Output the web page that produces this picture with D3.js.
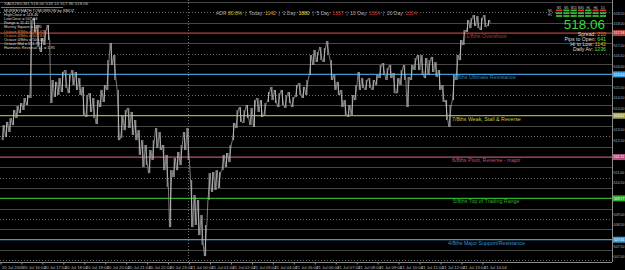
<!DOCTYPE html>
<html>
<head>
<meta charset="utf-8">
<script src="https://cdn.jsdelivr.net/npm/d3@7"></script>
<style>
html, body { margin: 0; padding: 0; background: #000; }
svg { display: block; font-family: "Liberation Sans", Arial, sans-serif; }
</style>
</head>
<body>
<svg id="chart" width="625" height="270"></svg>
<script>
// ---- data ----
// 10 minute bars from 20 Jul 15:10
const barStart = "2009-07-20 15:10";
const barHigh = [513.23,513.38,513.56,513.94,514.13,514.27,514.51,514.65,518.19,518.29,
  517.96,517.34,517.72,517.96,515.36,515.27,515.45,515.74,515.83,515.60,
  515.83,515.74,515.45,515.03,514.65,514.74,514.51,514.41,514.89,515.12,
  516.30,517.11,516.54,514.89,513.70,513.94,514.04,513.85,513.47,512.99,
  512.52,512.29,512.05,512.52,513.09,512.90,512.29,511.82,511.10,511.67,
  511.96,512.29,512.90,513.09,510.63,509.92,509.69,508.98,508.51,510.96,
  511.01,511.10,511.01,511.82,511.91,512.29,513.33,513.94,514.08,513.94,
  514.18,514.04,514.41,514.51,514.41,514.27,514.79,515.03,514.89,514.74,
  514.89,514.65,514.79,514.56,515.12,515.22,515.03,515.36,516.54,516.78,
  516.68,516.92,516.87,517.20,516.30,515.60,515.27,514.89,514.41,514.18,
  514.65,515.12,515.74,515.45,515.36,515.45,515.36,515.60,516.07,516.16,
  515.93,516.07,515.69,515.45,515.83,516.07,515.50,516.07,516.40,516.54,
  516.54,516.40,516.30,516.45,516.21,515.83,515.12,514.41,514.18,515.60,
  516.54,517.25,517.72,518.19,518.29,518.43,518.38,518.29,518.43,518.19];
const barLow = [512.52,512.67,512.90,513.23,513.56,513.80,513.94,514.18,514.51,517.63,
  516.92,516.68,517.01,517.25,514.27,514.56,514.65,514.79,514.98,514.74,
  515.12,514.89,514.65,513.70,513.61,513.85,513.56,513.28,514.08,514.32,
  514.89,516.07,515.36,512.52,512.62,512.99,513.09,512.76,512.52,511.82,
  511.25,511.34,510.96,511.58,512.15,512.05,511.10,510.30,508.41,510.77,
  511.10,511.34,512.05,511.58,508.41,508.51,508.03,507.56,507.04,509.69,
  510.07,510.16,510.26,511.10,511.25,511.48,512.52,513.09,513.38,513.33,
  513.56,513.23,513.14,513.85,513.61,513.70,514.32,514.41,514.27,514.08,
  514.18,514.04,514.27,514.08,514.56,514.65,514.51,514.65,515.60,516.07,
  516.21,516.30,516.21,516.54,515.36,514.89,514.65,514.08,513.70,513.61,
  513.70,514.41,514.89,514.98,514.89,514.98,514.89,515.12,515.45,515.60,
  515.36,515.45,514.74,514.74,515.12,515.36,514.08,515.36,515.83,515.83,
  515.60,515.45,515.60,515.74,515.50,514.89,514.32,513.47,513.14,514.41,
  515.36,516.30,517.01,517.63,517.81,517.91,517.81,517.72,517.86,517.91];
const lastClose = 518.06;

// murrey math levels
const levelNames = ["+1/8ths Overshoot", "8/8ths Ultimate Resistance", "7/8ths Weak, Stall & Reverse",
  "6/8ths Pivot, Reverse - major", "5/8ths Top of Trading Range", "4/8ths Major Support/Resistance"];
const levelPrices = [517.578, 515.625, 513.672, 511.719, 509.766, 507.813];
const levelColors = ["#b8413a", "#3d9ad6", "#a8a848", "#b8507c", "#2fae2f", "#3d9ad6"];
const labelColors = ["#a83a30", "#2f86b8", "#c8c84a", "#c0507a", "#3aaa3a", "#3a90c8"];
const octaveStep = 1.953125;

// axis labels
const priceTicks = [507.00, 507.50, 508.00, 508.50, 509.00, 509.50, 510.00, 510.50, 511.00, 511.50,
  512.00, 512.50, 513.00, 513.50, 514.00, 514.50, 515.00, 515.50, 516.00, 516.50,
  517.00, 517.50, 518.00, 518.50, 519.00];
const timeTicks = ["2009-07-20 15:04", "2009-07-20 16:04", "2009-07-20 17:04", "2009-07-20 18:04",
  "2009-07-20 19:04", "2009-07-20 20:04", "2009-07-20 21:04", "2009-07-20 22:04", "2009-07-20 23:04",
  "2009-07-21 00:04", "2009-07-21 01:04", "2009-07-21 02:04", "2009-07-21 03:04", "2009-07-21 04:04",
  "2009-07-21 05:04", "2009-07-21 06:04", "2009-07-21 07:04", "2009-07-21 08:04", "2009-07-21 09:04",
  "2009-07-21 10:04", "2009-07-21 11:04", "2009-07-21 12:04", "2009-07-21 13:04", "2009-07-21 14:04"];
const daySeparator = "2009-07-21 00:00";

// text panels
const titleText = "XAUUSD,M1  518.00 518.10 517.96 518.06";
const panelLines = ["MURREYMATH TOMORROW by SMOZ", "HighClose = 518.46", "LowClose = 507.04",
  "Range = 11.42", "Murrey Square = 1.95", "Octave 8/8ths = 515.63", "Octave 4/8ths = 507.81",
  "Octave 0/8ths = 500.00", "Octave Mid = 511.72", "Harmonic Reversal +/- = 1.95"];
const adrParts = [["ADR ", "#aaa"], ["80.8%", "#c8c830"], ["  |  Today: ", "#aaa"], ["1142", "#e0a020"],
  ["  |  1 Day: ", "#aaa"], ["1880", "#e0e040"], ["  |  5 Day: ", "#aaa"], ["1357", "#e03030"],
  ["  |  10 Day: ", "#aaa"], ["1364", "#e03030"], ["  |  20 Day: ", "#aaa"], ["1314", "#e03030"]];
const infoNames = ["Spread: ", "Pips to Open: ", "Hi to Low: ", "Daily Av: "];
const infoValues = ["210", "641", "1142", "1236"];
const infoColors = ["#e09020", "#40e040", "#e0b020", "#40e040"];
const tfLabels = ["M1", "M5", "M15", "M30", "H1", "H4", "D1"];
const tfTop = [0, 1, 1, 0, 1, 0, 0];

// ---- layout ----
const W = 625, H = 270;
const plotRight = 612, plotBottom = 262;
const parse = d3.timeParse("%Y-%m-%d %H:%M");
const svg = d3.select("#chart");
svg.append("rect").attr("width", W).attr("height", H).attr("fill", "#000");

const xScale = d3.scaleTime()
  .domain([parse(timeTicks[0]), parse(timeTicks[timeTicks.length - 1])])
  .range([1, 482.9]);
const yScale = d3.scaleLinear().domain([506.76, 519.14]).range([plotBottom, 0]);

const t0 = parse(barStart);
const bars = barHigh.map((h, i) => ({
  t: d3.timeMinute.offset(t0, i * 10), hi: h, lo: barLow[i]
}));

// grid: 1/32 octave lines (solid, dotted, solid between octave lines)
const grid = svg.append("g");
const gridVals = d3.range(-8, 24).map(k => levelPrices[5] + k * octaveStep / 4);
gridVals.forEach((v, k) => {
  const m = ((k % 4) + 4) % 4;
  if (m === 0 && levelPrices.some(p => Math.abs(p - v) < 0.01)) return;
  const y = Math.round(yScale(v)) + 0.5;
  grid.append("line")
    .attr("x1", 0).attr("x2", plotRight).attr("y1", y).attr("y2", y)
    .attr("stroke", m === 2 ? "#666" : "#474747")
    .attr("stroke-dasharray", m === 2 ? "1,2" : null);
});

// day separator
const sepX = Math.round(xScale(parse(daySeparator))) + 0.5;
svg.append("line").attr("x1", sepX).attr("x2", sepX)
  .attr("y1", 0).attr("y2", plotBottom)
  .attr("stroke", "#6a6a6a").attr("stroke-dasharray", "1,2");

// murrey level lines
svg.append("g").selectAll("line").data(levelPrices).join("line")
  .attr("x1", 0).attr("x2", plotRight)
  .attr("y1", d => yScale(d)).attr("y2", d => yScale(d))
  .attr("stroke", (d, i) => levelColors[i]).attr("stroke-width", 1.2);

// price: zigzag through bar highs and lows, plus range ticks
const pts = [];
bars.forEach((b, i) => {
  const x = xScale(b.t);
  const nxt = bars[i + 1];
  const up = nxt ? (nxt.hi + nxt.lo) > (b.hi + b.lo) : true;
  if (up) { pts.push([x - 1.2, b.lo]); pts.push([x + 1.2, b.hi]); }
  else { pts.push([x - 1.2, b.hi]); pts.push([x + 1.2, b.lo]); }
});
pts.push([xScale(bars[bars.length - 1].t) + 1.7, lastClose]);
const line = d3.line().x(d => d[0]).y(d => yScale(d[1]));
svg.append("path").attr("d", line(pts))
  .attr("fill", "none").attr("stroke", "#9a9a9a").attr("stroke-width", 0.8);
svg.append("g").selectAll("line").data(bars).join("line")
  .attr("x1", d => xScale(d.t)).attr("x2", d => xScale(d.t))
  .attr("y1", d => yScale(d.hi)).attr("y2", d => yScale(d.lo))
  .attr("stroke", "#cfcfcf").attr("stroke-width", 0.8);

// level labels
const labelDx = [463, 453, 452, 452, 453, 448];
svg.append("g").selectAll("text").data(levelNames).join("text")
  .attr("x", (d, i) => labelDx[i])
  .attr("y", (d, i) => yScale(levelPrices[i]) + 5)
  .attr("fill", (d, i) => labelColors[i])
  .attr("font-size", 5.3)
  .text(d => d);

// right price axis (skip ticks hidden by the level boxes)
svg.append("line").attr("x1", plotRight + 0.5).attr("x2", plotRight + 0.5)
  .attr("y1", 0).attr("y2", plotBottom).attr("stroke", "#8a8a8a");
const shownTicks = priceTicks.filter(v =>
  !levelPrices.some(p => Math.abs(yScale(p) - yScale(v)) < 6.5) && yScale(v) > 3);
const yAxis = svg.append("g").selectAll("g").data(shownTicks).join("g");
yAxis.append("line").attr("x1", plotRight).attr("x2", plotRight + 1.5)
  .attr("y1", d => yScale(d)).attr("y2", d => yScale(d)).attr("stroke", "#8a8a8a");
yAxis.append("text").attr("x", plotRight + 1.8).attr("y", d => yScale(d) + 1.3)
  .attr("fill", "#bbb").attr("font-size", 3.5).text(d => d.toFixed(2));
const boxes = svg.append("g").selectAll("g").data(levelPrices).join("g");
boxes.append("rect").attr("x", plotRight + 1).attr("width", 12)
  .attr("y", d => yScale(d) - 3).attr("height", 6)
  .attr("fill", (d, i) => levelColors[i]);
boxes.append("text").attr("x", plotRight + 1.8).attr("y", d => yScale(d) + 1.3)
  .attr("fill", "#fff").attr("font-size", 3.5).text(d => d.toFixed(2));

// bottom time axis
svg.append("line").attr("x1", 0).attr("x2", plotRight)
  .attr("y1", plotBottom + 0.5).attr("y2", plotBottom + 0.5).attr("stroke", "#8a8a8a");
const fmt = d3.timeFormat("%d %b %H:%M");
const xAxis = svg.append("g").selectAll("g").data(timeTicks).join("g");
xAxis.append("line").attr("x1", d => xScale(parse(d))).attr("x2", d => xScale(parse(d)))
  .attr("y1", plotBottom).attr("y2", plotBottom + 2.5).attr("stroke", "#8a8a8a");
xAxis.append("text").attr("x", d => xScale(parse(d)) + 1).attr("y", plotBottom + 6.5)
  .attr("fill", "#bbb").attr("font-size", 4.2)
  .text((d, i) => i === 0 ? "20 Jul 2009" : fmt(parse(d)));

// title and murrey panel
svg.append("text").attr("x", 4).attr("y", 5).attr("fill", "#bbb").attr("font-size", 4.4).text(titleText);
svg.append("line").attr("x1", 1).attr("x2", 63).attr("y1", 7.5).attr("y2", 7.5).attr("stroke", "#777");
svg.append("g").selectAll("text").data(panelLines).join("text")
  .attr("x", 4).attr("y", (d, i) => 11.5 + i * 4.2)
  .attr("fill", (d, i) => i === 5 || i === 6 ? "#e08a30" : "#ddd")
  .attr("font-size", 3.9).text(d => d);

// ADR line
const adr = svg.append("text").attr("x", 216).attr("y", 15).attr("font-size", 5).attr("xml:space", "preserve");
adrParts.forEach(p => adr.append("tspan").attr("fill", p[1]).text(p[0]));

// big price and info block
svg.append("text").attr("x", 605).attr("y", 29).attr("text-anchor", "end")
  .attr("fill", "#3ad83a").attr("font-size", 13.5).text(lastClose.toFixed(2));
infoNames.forEach((n, i) => {
  const t = svg.append("text").attr("x", 606).attr("y", 36 + i * 5).attr("text-anchor", "end")
    .attr("font-size", 5.2);
  t.append("tspan").attr("fill", "#ddd").text(n);
  t.append("tspan").attr("fill", infoColors[i]).text(infoValues[i]);
});

// timeframe strength bars
const tfX = d3.scaleBand().domain(tfLabels).range([556, 606]).paddingInner(0.15);
const tf = svg.append("g").selectAll("g").data(tfLabels).join("g");
tf.append("text").attr("x", d => tfX(d) + tfX.bandwidth() / 2).attr("y", 8.5)
  .attr("text-anchor", "middle").attr("fill", "#ccc").attr("font-size", 3).text(d => d);
tf.append("rect").attr("x", d => tfX(d)).attr("width", tfX.bandwidth()).attr("y", 9.5).attr("height", 1.8)
  .attr("fill", (d, i) => tfTop[i] ? "#30c030" : "#e03030");
tf.append("rect").attr("x", d => tfX(d)).attr("width", tfX.bandwidth()).attr("y", 12.3).attr("height", 1.8)
  .attr("fill", "#30c030");
tf.append("rect").attr("x", d => tfX(d)).attr("width", tfX.bandwidth()).attr("y", 15.1).attr("height", 1.8)
  .attr("fill", "#30c030");
svg.append("text").attr("x", 548).attr("y", 12).attr("fill", "#ccc").attr("font-size", 3).text("M5");
svg.append("text").attr("x", 548).attr("y", 16).attr("fill", "#ccc").attr("font-size", 3).text("H1");
</script>
</body>
</html>
